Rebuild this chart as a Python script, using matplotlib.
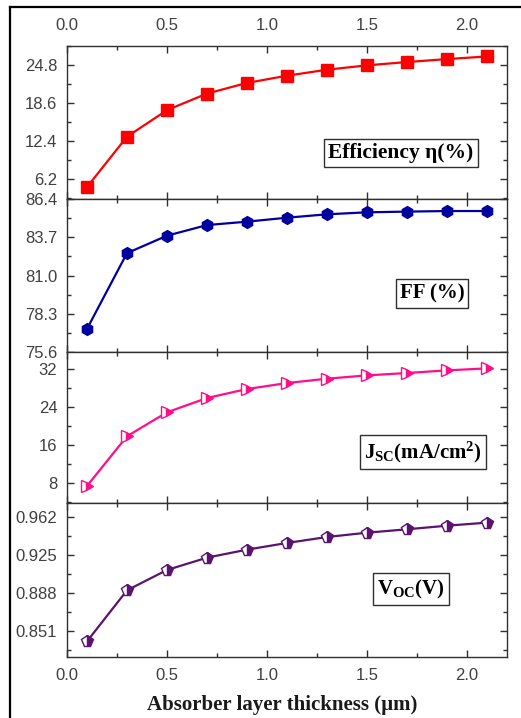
import matplotlib
matplotlib.use("Agg")
import matplotlib.pyplot as plt
from matplotlib.ticker import FixedLocator, AutoMinorLocator, FormatStrFormatter
from matplotlib.lines import Line2D

plt.rcParams['mathtext.fontset'] = 'custom'
plt.rcParams['mathtext.rm'] = 'Liberation Serif:bold'
plt.rcParams['mathtext.it'] = 'Liberation Serif:bold'
plt.rcParams['mathtext.bf'] = 'Liberation Serif:bold'

# ---- data ----
thickness = [0.1, 0.3, 0.5, 0.7, 0.9, 1.1, 1.3, 1.5, 1.7, 1.9, 2.1]
efficiency = [4.94, 13.14, 17.46, 20.16, 21.89, 23.07, 24.04, 24.75, 25.29, 25.77, 26.2]
ff = [77.23, 82.58, 83.81, 84.56, 84.80, 85.08, 85.32, 85.46, 85.51, 85.55, 85.55]
jsc = [7.3, 17.8, 22.86, 25.88, 27.78, 29.04, 29.96, 30.66, 31.16, 31.72, 32.14]
voc = [0.8406, 0.8903, 0.9101, 0.9221, 0.9299, 0.9364, 0.9422, 0.9464, 0.9497, 0.9532, 0.9562]

eff_ticks = [6.2, 12.4, 18.6, 24.8]
ff_ticks = [75.6, 78.3, 81.0, 83.7, 86.4]
jsc_ticks = [8, 16, 24, 32]
voc_ticks = [0.851, 0.888, 0.925, 0.962]
x_ticks = [0.0, 0.5, 1.0, 1.5, 2.0]

labels = [r'Efficiency η(%)', 'FF (%)',
          r'J$_{\mathrm{SC}}$(mA/cm$^{\mathrm{2}}$)', r'V$_{\mathrm{OC}}$(V)']
xlabel = 'Absorber layer thickness (µm)'

W, H = 521, 718
fig = plt.figure(figsize=(W / 100, H / 100), dpi=100)

# outer frame (left & top)
fig.add_artist(Line2D([10 / W, 10 / W], [0, 1 - 7 / H], color='black', lw=1.6,
                      transform=fig.transFigure))
fig.add_artist(Line2D([10 / W, 1], [1 - 7 / H, 1 - 7 / H], color='black', lw=1.6,
                      transform=fig.transFigure))

left, right = 67 / W, 507 / W
bounds = [(46, 199), (199, 352), (352, 503), (503, 657)]
axes = []
for i, (t, b) in enumerate(bounds):
    ax = fig.add_axes([left, 1 - b / H, right - left, (b - t) / H],
                      sharex=axes[0] if axes else None)
    axes.append(ax)

series = [efficiency, ff, jsc, voc]
colors = ['#FF0000', '#0000A0', '#FF0D8A', '#5A1470']
markers = ['s', 'h', '>', 'p']
fills = ['full', 'full', 'right', 'right']
msizes = [8.5, 8.5, 9, 8.5]
ylims = [(3.0, 27.9), (75.6, 86.4), (3.7, 35.6), (0.8254, 0.9753)]
yticks = [eff_ticks, ff_ticks, jsc_ticks, voc_ticks]
fmts = ['%.1f', '%.1f', '%d', '%.3f']
box_centers = [(401, 153), (432, 293.5), (423, 452), (411, 589)]
box_sizes = [15.5, 15, 15, 15]

for i, ax in enumerate(axes):
    ax.plot(thickness, series[i], color=colors[i], lw=1.6, marker=markers[i],
            ms=msizes[i], fillstyle=fills[i], markerfacecoloralt='white',
            markeredgecolor=colors[i], markerfacecolor=colors[i], mew=1.0)
    ax.set_xlim(0, 2.2)
    ax.set_ylim(*ylims[i])
    ax.yaxis.set_major_locator(FixedLocator(yticks[i]))
    ax.yaxis.set_major_formatter(FormatStrFormatter(fmts[i]))
    step = yticks[i][1] - yticks[i][0]
    mins = [v - step / 2 for v in yticks[i]] + [yticks[i][-1] + step / 2]
    ax.yaxis.set_minor_locator(FixedLocator(mins))
    ax.xaxis.set_major_locator(FixedLocator(x_ticks))
    ax.xaxis.set_minor_locator(AutoMinorLocator(2))
    ax.tick_params(which='both', direction='in', top=True, right=True,
                   colors='#303030', labelcolor='#404040', labelsize=12,
                   width=1.0)
    ax.tick_params(which='major', length=5)
    ax.tick_params(which='minor', length=3)
    ax.tick_params(axis='y', pad=7)
    ax.tick_params(axis='x', labelbottom=(i == 3), labeltop=(i == 0), pad=8)
    for lab in ax.get_xticklabels() + ax.get_yticklabels():
        lab.set_fontfamily('Liberation Sans')
    for s in ax.spines.values():
        s.set_color('#303030')
        s.set_linewidth(1.0)
    cx, cy = box_centers[i]
    fig.text(cx / W, 1 - cy / H, labels[i], ha='center', va='center',
             fontsize=box_sizes[i], fontfamily='Liberation Serif', fontweight='bold',
             color='black',
             bbox=dict(boxstyle='square,pad=0.2', facecolor='white',
                       edgecolor='#303030', linewidth=1.0))

axes[0].tick_params(axis='x', pad=9)
fig.text(((146 + 418) / 2) / W, 1 - 705 / H, xlabel, ha='center', va='center',
         fontsize=15, fontfamily='Liberation Serif', fontweight='bold', color='#1a1a1a')

fig.savefig('out.png', dpi=100)
